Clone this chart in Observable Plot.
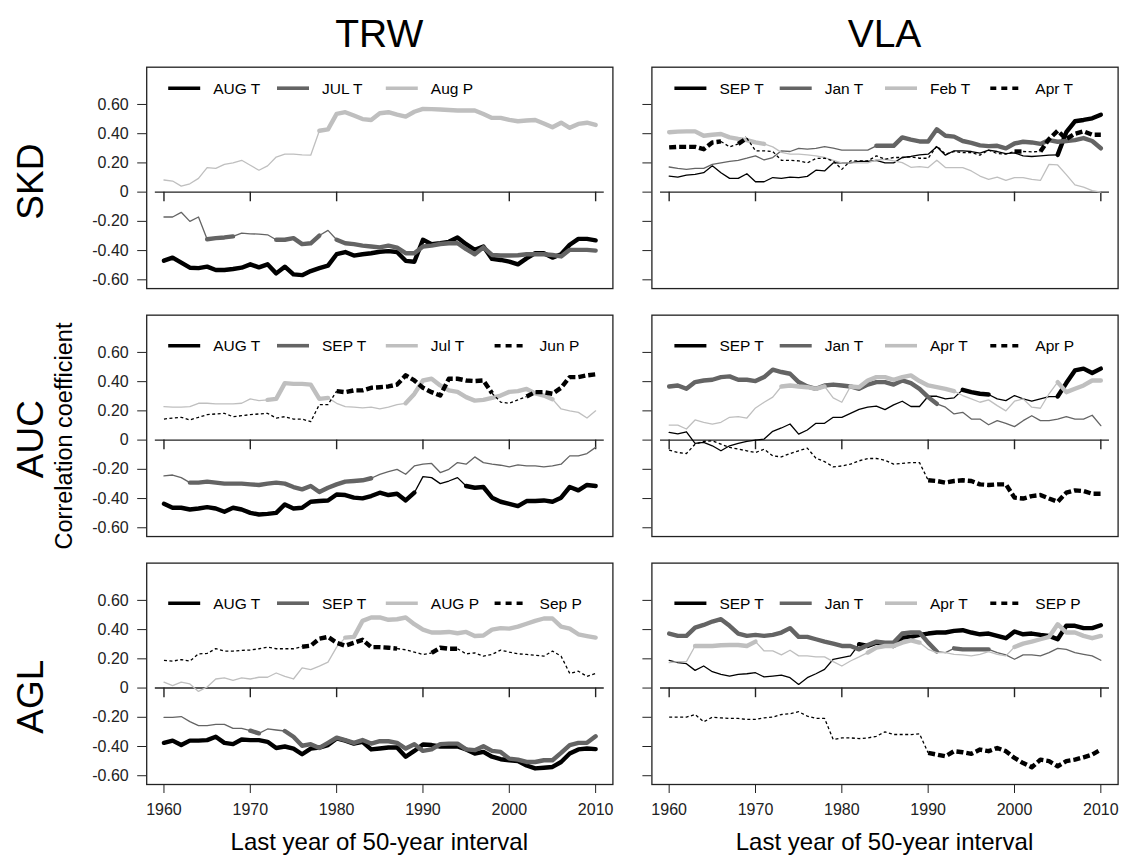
<!DOCTYPE html>
<html>
<head>
<meta charset="utf-8">
<script src="https://cdn.jsdelivr.net/npm/d3@7"></script>
<script src="https://cdn.jsdelivr.net/npm/@observablehq/plot@0.6"></script>
<style>
html, body { margin: 0; padding: 0; background: #fff; }
#chart { width: 1121px; height: 858px; }
svg text { font-family: "Liberation Sans", Arial, Helvetica, sans-serif; }
</style>
</head>
<body>
<div id="chart"></div>
<script>
// ---------------- data ----------------
const years = d3.range(1960, 2011);
const cols = ["TRW", "VLA"];
const rows = ["SKD", "AUC", "AGL"];
const yTicks = [0.6, 0.4, 0.2, 0, -0.2, -0.4, -0.6];
const yTickLabels = ["0.60", "0.40", "0.20", "0", "-0.20", "-0.40", "-0.60"];
const xTicks = [1960, 1970, 1980, 1990, 2000, 2010];
const xTickLabels = ["1960", "1970", "1980", "1990", "2000", "2010"];
const yTitle = "Correlation coefficient";
const xTitle = "Last year of 50-year interval";

// SKD / TRW
const skdTrwNames = ["AUG T", "JUL T", "Aug P"];
const skdTrwAugT = [-0.469,-0.448,-0.483,-0.517,-0.52, -0.51,-0.533,-0.533,-0.526,-0.517, -0.494,-0.515,-0.494,-0.556,-0.51, -0.563,-0.568,-0.54,-0.52,-0.503, -0.425,-0.41,-0.434,-0.425,-0.418, -0.408,-0.404,-0.41,-0.47,-0.476, -0.326,-0.356,-0.35,-0.34,-0.31, -0.356,-0.395,-0.372,-0.457,-0.464, -0.476,-0.494,-0.453,-0.418,-0.418, -0.448,-0.425,-0.36,-0.32,-0.32, -0.33];
const skdTrwJulT = [-0.17,-0.17,-0.138,-0.2,-0.17, -0.322,-0.315,-0.31,-0.303,-0.28, -0.285,-0.287,-0.292,-0.326,-0.326, -0.315,-0.356,-0.35,-0.297,-0.262, -0.326,-0.35,-0.356,-0.366,-0.372, -0.378,-0.366,-0.38,-0.418,-0.418, -0.372,-0.366,-0.355,-0.35,-0.35, -0.39,-0.425,-0.378,-0.43,-0.434, -0.434,-0.432,-0.425,-0.424,-0.425, -0.43,-0.44,-0.395,-0.395,-0.395, -0.40];
const skdTrwAugP = [0.083,0.076,0.041,0.057,0.094, 0.168,0.163,0.19,0.2,0.218, 0.184,0.15,0.18,0.24,0.26, 0.26,0.255,0.253,0.42,0.43, 0.536,0.547,0.524,0.5,0.494, 0.54,0.547,0.53,0.517,0.55, 0.57,0.568,0.566,0.562,0.559, 0.559,0.559,0.535,0.508,0.508, 0.495,0.485,0.49,0.494,0.47, 0.444,0.475,0.44,0.467,0.475, 0.46];
const skdTrwSig = [[[1960,2010]], [[1965,1968],[1973,1978],[1980,2010]], [[1978,2010]]];

// SKD / VLA
const skdVlaNames = ["SEP T", "Jan T", "Feb T", "Apr T"];
const skdVlaSepT = [0.11,0.103,0.117,0.122,0.133, 0.18,0.133,0.094,0.094,0.126, 0.071,0.071,0.1,0.094,0.103, 0.099,0.108,0.15,0.145,0.2, 0.2,0.2,0.21,0.21,0.218, 0.2,0.2,0.237,0.244,0.255, 0.26,0.31,0.253,0.283,0.283, 0.278,0.267,0.287,0.278,0.264, 0.269,0.248,0.244,0.248,0.253, 0.255,0.41,0.485,0.494,0.505, 0.53];
const skdVlaJanT = [0.172,0.163,0.156,0.163,0.163, 0.19,0.2,0.21,0.218,0.232, 0.248,0.22,0.237,0.283,0.278, 0.3,0.294,0.3,0.312,0.301, 0.287,0.287,0.287,0.287,0.317, 0.317,0.317,0.375,0.359,0.347, 0.347,0.43,0.386,0.38,0.35, 0.337,0.32,0.315,0.317,0.3, 0.333,0.345,0.34,0.33,0.356, 0.345,0.35,0.356,0.37,0.35, 0.3];
const skdVlaFebT = [0.41,0.414,0.416,0.416,0.386, 0.393,0.398,0.375,0.364,0.356, 0.34,0.33,0.31,0.272,0.26, 0.26,0.255,0.248,0.237,0.218, 0.2,0.2,0.2,0.2,0.22, 0.225,0.214,0.202,0.17,0.175, 0.168,0.218,0.168,0.168,0.168, 0.145,0.11,0.087,0.103,0.08, 0.1,0.1,0.087,0.08,0.19, 0.186,0.12,0.05,0.034,0.01, 0.0];
const skdVlaAprT = [0.306,0.31,0.31,0.31,0.294, 0.34,0.347,0.31,0.33,0.37, 0.283,0.283,0.278,0.218,0.218, 0.214,0.2,0.23,0.232,0.214, 0.156,0.214,0.214,0.214,0.248, 0.225,0.237,0.237,0.242,0.232, 0.232,0.317,0.26,0.278,0.271, 0.271,0.253,0.287,0.264,0.26, 0.278,0.278,0.276,0.278,0.363, 0.42,0.363,0.4,0.416,0.393, 0.393];
const skdVlaSig = [[[2005,2010]], [[1984,2010]], [[1960,1971]], [[1960,1966],[1968,1969],[2000,2001],[2003,2010]]];

// AUC / TRW
const aucTrwNames = ["AUG T", "SEP T", "Jul T", "Jun P"];
const aucTrwAugT = [-0.436,-0.463,-0.463,-0.475,-0.468, -0.459,-0.468,-0.49,-0.463,-0.475, -0.498,-0.509,-0.505,-0.498,-0.44, -0.468,-0.463,-0.422,-0.417,-0.413, -0.372,-0.376,-0.394,-0.399,-0.383, -0.36,-0.376,-0.367,-0.413,-0.36, -0.25,-0.257,-0.298,-0.28,-0.257, -0.314,-0.326,-0.321,-0.394,-0.422, -0.436,-0.452,-0.417,-0.417,-0.413, -0.422,-0.394,-0.321,-0.344,-0.307, -0.314];
const aucTrwSepT = [-0.245,-0.239,-0.257,-0.291,-0.291, -0.284,-0.291,-0.298,-0.298,-0.298, -0.303,-0.307,-0.298,-0.291,-0.298, -0.321,-0.337,-0.314,-0.355,-0.326, -0.303,-0.284,-0.28,-0.275,-0.261, -0.234,-0.216,-0.2,-0.234,-0.177, -0.165,-0.16,-0.222,-0.2,-0.154, -0.165,-0.115,-0.154,-0.165,-0.172, -0.183,-0.17,-0.177,-0.177,-0.183, -0.177,-0.165,-0.108,-0.108,-0.092, -0.05];
const aucTrwJulT = [0.229,0.225,0.225,0.229,0.252, 0.252,0.248,0.248,0.248,0.252, 0.282,0.27,0.275,0.282,0.39, 0.385,0.385,0.38,0.282,0.289, 0.252,0.229,0.225,0.22,0.225, 0.213,0.225,0.243,0.252,0.316, 0.408,0.42,0.374,0.34,0.33, 0.294,0.27,0.275,0.289,0.305, 0.33,0.335,0.35,0.32,0.305, 0.28,0.213,0.2,0.19,0.151, 0.2];
const aucTrwJunP = [0.144,0.151,0.156,0.138,0.156, 0.174,0.179,0.183,0.16,0.167, 0.174,0.179,0.183,0.151,0.16, 0.144,0.144,0.126,0.243,0.243, 0.335,0.328,0.34,0.34,0.358, 0.362,0.367,0.38,0.443,0.408, 0.358,0.328,0.305,0.42,0.42, 0.408,0.404,0.408,0.321,0.26, 0.252,0.275,0.298,0.328,0.328, 0.317,0.358,0.431,0.431,0.443, 0.45];
const aucTrwSig = [[[1960,1989],[1995,2010]], [[1963,1984]], [[1972,1979],[1988,2005]], [[1980,1998],[2002,2010]]];

// AUC / VLA
const aucVlaNames = ["SEP T", "Jan T", "Apr T", "Apr P"];
const aucVlaSepT = [0.053,0.042,0.057,-0.023,-0.016, -0.039,-0.073,-0.039,-0.023,-0.009, 0.0,0.007,0.06,0.083,0.11, 0.041,0.069,0.115,0.115,0.156, 0.156,0.183,0.21,0.225,0.232, 0.209,0.241,0.266,0.23,0.23, 0.3,0.3,0.282,0.289,0.344, 0.328,0.317,0.312,0.282,0.27, 0.305,0.282,0.266,0.282,0.298, 0.298,0.39,0.477,0.489,0.459, 0.489];
const aucVlaJanT = [0.367,0.374,0.351,0.397,0.408, 0.413,0.431,0.436,0.413,0.413, 0.404,0.431,0.482,0.466,0.454, 0.397,0.367,0.351,0.374,0.38, 0.374,0.367,0.351,0.38,0.397, 0.397,0.38,0.408,0.39,0.351, 0.294,0.248,0.225,0.179,0.19, 0.144,0.144,0.105,0.133,0.115, 0.092,0.133,0.167,0.133,0.133, 0.144,0.16,0.144,0.144,0.17, 0.099];
const aucVlaAprT = [0.103,0.103,0.076,0.138,0.122, 0.11,0.122,0.156,0.16,0.151, 0.22,0.259,0.294,0.367,0.374, 0.367,0.362,0.351,0.367,0.289, 0.259,0.367,0.362,0.408,0.431, 0.431,0.413,0.431,0.443,0.404, 0.374,0.362,0.351,0.335,0.305, 0.282,0.259,0.275,0.236,0.2, 0.266,0.282,0.225,0.218,0.317, 0.397,0.328,0.351,0.374,0.408, 0.408];
const aucVlaAprP = [-0.069,-0.085,-0.092,-0.028,-0.009, -0.005,-0.028,-0.05,-0.062,-0.073, -0.085,-0.062,-0.108,-0.115,-0.092, -0.073,-0.055,-0.124,-0.147,-0.183, -0.177,-0.165,-0.142,-0.126,-0.126, -0.138,-0.165,-0.16,-0.154,-0.154, -0.275,-0.28,-0.291,-0.28,-0.275, -0.28,-0.303,-0.307,-0.303,-0.303, -0.394,-0.4,-0.383,-0.376,-0.4, -0.422,-0.36,-0.344,-0.349,-0.367, -0.367];
const aucVlaSig = [[[1994,1997],[2005,2010]], [[1960,1991]], [[1973,1978],[1981,1993],[2005,2010]], [[1990,2010]]];

// AGL / TRW
const aglTrwNames = ["AUG T", "SEP T", "AUG P", "Sep P"];
const aglTrwAugT = [-0.375,-0.36,-0.39,-0.36,-0.36, -0.356,-0.333,-0.375,-0.384,-0.352, -0.356,-0.356,-0.368,-0.41,-0.4, -0.414,-0.453,-0.414,-0.407,-0.39, -0.345,-0.36,-0.38,-0.368,-0.42, -0.414,-0.407,-0.407,-0.47,-0.43, -0.386,-0.39,-0.4,-0.4,-0.4, -0.42,-0.448,-0.437,-0.47,-0.487, -0.494,-0.5,-0.53,-0.55,-0.545, -0.54,-0.506,-0.448,-0.42,-0.414, -0.418];
const aglTrwSepT = [-0.2,-0.2,-0.195,-0.23,-0.257, -0.257,-0.248,-0.248,-0.276,-0.276, -0.292,-0.31,-0.28,-0.287,-0.294, -0.333,-0.395,-0.384,-0.41,-0.375, -0.34,-0.356,-0.375,-0.356,-0.38, -0.364,-0.364,-0.375,-0.414,-0.384, -0.43,-0.42,-0.384,-0.38,-0.38, -0.42,-0.425,-0.398,-0.43,-0.437, -0.483,-0.49,-0.506,-0.506,-0.494, -0.494,-0.444,-0.39,-0.375,-0.375, -0.33];
const aglTrwAugP = [0.04,0.016,0.04,0.028,-0.023, 0.007,0.062,0.069,0.053,0.069, 0.062,0.074,0.074,0.103,0.08, 0.062,0.138,0.126,0.15,0.177, 0.28,0.345,0.35,0.46,0.483, 0.483,0.467,0.471,0.483,0.437, 0.4,0.38,0.38,0.384,0.375, 0.384,0.356,0.36,0.4,0.41, 0.407,0.42,0.44,0.46,0.476, 0.476,0.42,0.407,0.368,0.356, 0.345];
const aglTrwSepP = [0.19,0.184,0.195,0.184,0.234, 0.237,0.27,0.253,0.253,0.258, 0.26,0.269,0.28,0.269,0.269, 0.269,0.283,0.29,0.338,0.35, 0.31,0.29,0.31,0.33,0.28, 0.28,0.276,0.27,0.262,0.246, 0.23,0.24,0.276,0.269,0.269, 0.234,0.241,0.218,0.23,0.26, 0.246,0.234,0.23,0.225,0.218, 0.253,0.218,0.1,0.115,0.08, 0.1];
const aglTrwSig = [[[1960,2010]], [[1970,1971],[1974,2010]], [[1981,2010]], [[1976,1987],[1991,1994]]];

// AGL / VLA
const aglVlaNames = ["SEP T", "Jan T", "Apr T", "SEP P"];
const aglVlaSepT = [0.19,0.174,0.167,0.121,0.151, 0.112,0.094,0.082,0.094,0.098, 0.105,0.076,0.082,0.089,0.071, 0.025,0.071,0.098,0.128,0.197, 0.208,0.22,0.3,0.288,0.311, 0.295,0.288,0.345,0.35,0.364, 0.373,0.38,0.38,0.391,0.396, 0.38,0.368,0.373,0.357,0.341, 0.387,0.368,0.373,0.364,0.357, 0.334,0.426,0.426,0.41,0.41, 0.43];
const aglVlaJanT = [0.373,0.357,0.357,0.414,0.432, 0.455,0.471,0.426,0.373,0.357, 0.364,0.357,0.364,0.38,0.41, 0.35,0.35,0.334,0.318,0.304, 0.288,0.288,0.265,0.295,0.318, 0.311,0.311,0.373,0.38,0.38, 0.311,0.25,0.243,0.272,0.265, 0.265,0.265,0.265,0.243,0.227, 0.197,0.227,0.227,0.22,0.243, 0.272,0.265,0.243,0.231,0.22, 0.19];
const aglVlaAprT = [0.174,0.181,0.181,0.288,0.288, 0.288,0.293,0.295,0.295,0.288, 0.318,0.254,0.254,0.227,0.259, 0.22,0.22,0.213,0.213,0.181, 0.151,0.185,0.213,0.243,0.277, 0.288,0.288,0.311,0.327,0.311, 0.265,0.243,0.243,0.231,0.227, 0.22,0.231,0.25,0.231,0.22, 0.281,0.304,0.318,0.334,0.35, 0.437,0.38,0.38,0.357,0.341, 0.357];
const aglVlaSepP = [-0.199,-0.199,-0.199,-0.181,-0.231, -0.199,-0.204,-0.208,-0.208,-0.215, -0.215,-0.204,-0.199,-0.181,-0.176, -0.162,-0.192,-0.208,-0.208,-0.352, -0.341,-0.341,-0.346,-0.341,-0.33, -0.3,-0.318,-0.318,-0.318,-0.313, -0.444,-0.455,-0.467,-0.432,-0.439, -0.45,-0.421,-0.432,-0.41,-0.432, -0.478,-0.513,-0.542,-0.49,-0.5, -0.535,-0.5,-0.49,-0.474,-0.455, -0.421];
const aglVlaSig = [[[1982,2010]], [[1960,1991],[1993,1997]], [[1963,1970],[1983,1989],[2000,2010]], [[1990,2010]]];

// ---------------- panel table built from the arrays ----------------
const panels = [
  {row: "SKD", col: "TRW", names: skdTrwNames, values: [skdTrwAugT, skdTrwJulT, skdTrwAugP], sig: skdTrwSig},
  {row: "SKD", col: "VLA", names: skdVlaNames, values: [skdVlaSepT, skdVlaJanT, skdVlaFebT, skdVlaAprT], sig: skdVlaSig},
  {row: "AUC", col: "TRW", names: aucTrwNames, values: [aucTrwAugT, aucTrwSepT, aucTrwJulT, aucTrwJunP], sig: aucTrwSig},
  {row: "AUC", col: "VLA", names: aucVlaNames, values: [aucVlaSepT, aucVlaJanT, aucVlaAprT, aucVlaAprP], sig: aucVlaSig},
  {row: "AGL", col: "TRW", names: aglTrwNames, values: [aglTrwAugT, aglTrwSepT, aglTrwAugP, aglTrwSepP], sig: aglTrwSig},
  {row: "AGL", col: "VLA", names: aglVlaNames, values: [aglVlaSepT, aglVlaJanT, aglVlaAprT, aglVlaSepP], sig: aglVlaSig}
];

// ---------------- styles & layout ----------------
const STYLES = [
  {stroke: "#000000", dash: false},
  {stroke: "#646464", dash: false},
  {stroke: "#bfbfbf", dash: false},
  {stroke: "#000000", dash: true}
];
const THIN = 1.3, THICK = 4.4;
const W = 1121, H = 858;
const ML = 146.2, MR = 3.4, MT = 66.7, MB = 74;
const COL_GAP = 39, ROW_GAP = 27.6;
const stepX = (W - ML - MR + COL_GAP) / 2;
const stepY = (H - MT - MB + 2 * ROW_GAP) / 3;
const panelW = stepX - COL_GAP, panelH = stepY - ROW_GAP;
const Y_DOMAIN = [-0.66, 0.855];
const pxPerUnit = panelH / (Y_DOMAIN[1] - Y_DOMAIN[0]);
const ZERO_TICK_PX = 10;
const FONT = '"Liberation Sans", Arial, Helvetica, sans-serif';
const INK = "#222";

// split each series into thin / thick runs
const runs = STYLES.map(() => ({thin: [], thick: []}));
panels.forEach(p => {
  p.values.forEach((vals, si) => {
    const sig = years.map(y => p.sig[si].some(([a, b]) => y >= a && y <= b));
    let runType = null, runId = 0, key = null;
    for (let i = 0; i < years.length - 1; i++) {
      const type = sig[i] && sig[i + 1] ? "thick" : "thin";
      if (type !== runType) {
        runType = type; runId++;
        key = `${p.row}-${p.col}-${si}-${runId}`;
        runs[si][type].push({key, fx: p.col, fy: p.row, year: years[i], value: vals[i]});
      }
      runs[si][type].push({key, fx: p.col, fy: p.row, year: years[i + 1], value: vals[i + 1]});
    }
  });
});

const lineMarks = [];
STYLES.forEach((st, si) => {
  ["thin", "thick"].forEach(type => {
    const w = type === "thick" ? THICK : THIN;
    lineMarks.push(Plot.line(runs[si][type], {
      x: "year", y: "value", z: "key", fx: "fx", fy: "fy",
      stroke: st.stroke, strokeWidth: w,
      strokeDasharray: st.dash ? (type === "thick" ? "7,3" : "3,2.5") : null,
      strokeLinecap: st.dash ? "butt" : "round",
      strokeLinejoin: "round"
    }));
  });
});

const yLabelMap = new Map(yTicks.map((t, i) => [t, yTickLabels[i]]));
const xLabelMap = new Map(xTicks.map((t, i) => [t, xTickLabels[i]]));

const chart = Plot.plot({
  width: W, height: H,
  marginLeft: ML, marginRight: MR, marginTop: MT, marginBottom: MB,
  style: {fontFamily: FONT, background: "#fff", color: INK},
  fx: {domain: cols, paddingInner: COL_GAP / stepX, paddingOuter: 0, axis: null, round: false},
  fy: {domain: rows, paddingInner: ROW_GAP / stepY, paddingOuter: 0, axis: null, round: false},
  x: {domain: [years[0] - 2, years[years.length - 1] + 2], axis: null},
  y: {domain: Y_DOMAIN, axis: null},
  marks: [
    Plot.ruleY([0], {x1: years[0] - 1, x2: years[years.length - 1] + 1, stroke: INK, strokeWidth: 1.4}),
    Plot.ruleX(xTicks, {x: d => d, y1: 0, y2: -ZERO_TICK_PX / pxPerUnit, stroke: INK, strokeWidth: 1.4}),
    ...lineMarks,
    Plot.frame({stroke: INK, strokeWidth: 1.3}),
    Plot.axisY(yTicks, {anchor: "left", tickSize: 9, tickPadding: 9, fontSize: 16,
      tickFormat: d => yLabelMap.get(d), facetAnchor: "left", color: INK, label: null}),
    Plot.axisY(yTicks, {anchor: "left", tickSize: 9, fontSize: 16,
      tickFormat: () => "", facetAnchor: "right", color: INK, label: null}),
    Plot.axisX(xTicks, {anchor: "bottom", tickSize: 9, tickPadding: 10, fontSize: 16,
      tickFormat: d => xLabelMap.get(d), facetAnchor: "bottom", color: INK, label: null})
  ]
});

document.getElementById("chart").appendChild(chart);

// ---------------- titles, labels and legends ----------------
const svg = d3.select(chart);
const colLeft = c => ML + cols.indexOf(c) * stepX;
const rowTop = r => MT + rows.indexOf(r) * stepY;
const g = svg.append("g").attr("font-family", FONT).attr("fill", "#000");

cols.forEach(c => {
  g.append("text").attr("x", colLeft(c) + panelW / 2).attr("y", 47)
    .attr("text-anchor", "middle").attr("font-size", 39).text(c);
  g.append("text").attr("x", colLeft(c) + panelW / 2).attr("y", 850)
    .attr("text-anchor", "middle").attr("font-size", 24).text(xTitle);
});
rows.forEach(r => {
  g.append("text").attr("transform", `translate(43,${rowTop(r) + panelH / 2}) rotate(-90)`)
    .attr("text-anchor", "middle").attr("font-size", 37).text(r);
});
g.append("text").attr("transform", `translate(72,436) rotate(-90)`)
  .attr("text-anchor", "middle").attr("font-size", 23.5).text(yTitle);

panels.forEach(p => {
  const left = colLeft(p.col), top = rowTop(p.row);
  const isRight = p.col === cols[1];
  const spacing = isRight ? 105.3 : 108.8;
  const start = left + (isRight ? 23 : 22);
  const yy = top + 21.5;
  p.names.forEach((name, i) => {
    const st = STYLES[i];
    const x0 = start + i * spacing;
    g.append("line").attr("x1", x0).attr("x2", x0 + (st.dash ? 28 : 32))
      .attr("y1", yy).attr("y2", yy)
      .attr("stroke", st.stroke).attr("stroke-width", 3.6)
      .attr("stroke-dasharray", st.dash ? "6,5" : null)
      .attr("stroke-linecap", "butt");
    g.append("text").attr("x", x0 + 45).attr("y", yy + 5.5)
      .attr("text-anchor", "start").attr("font-size", 15.5).text(name);
  });
});
</script>
</body>
</html>
